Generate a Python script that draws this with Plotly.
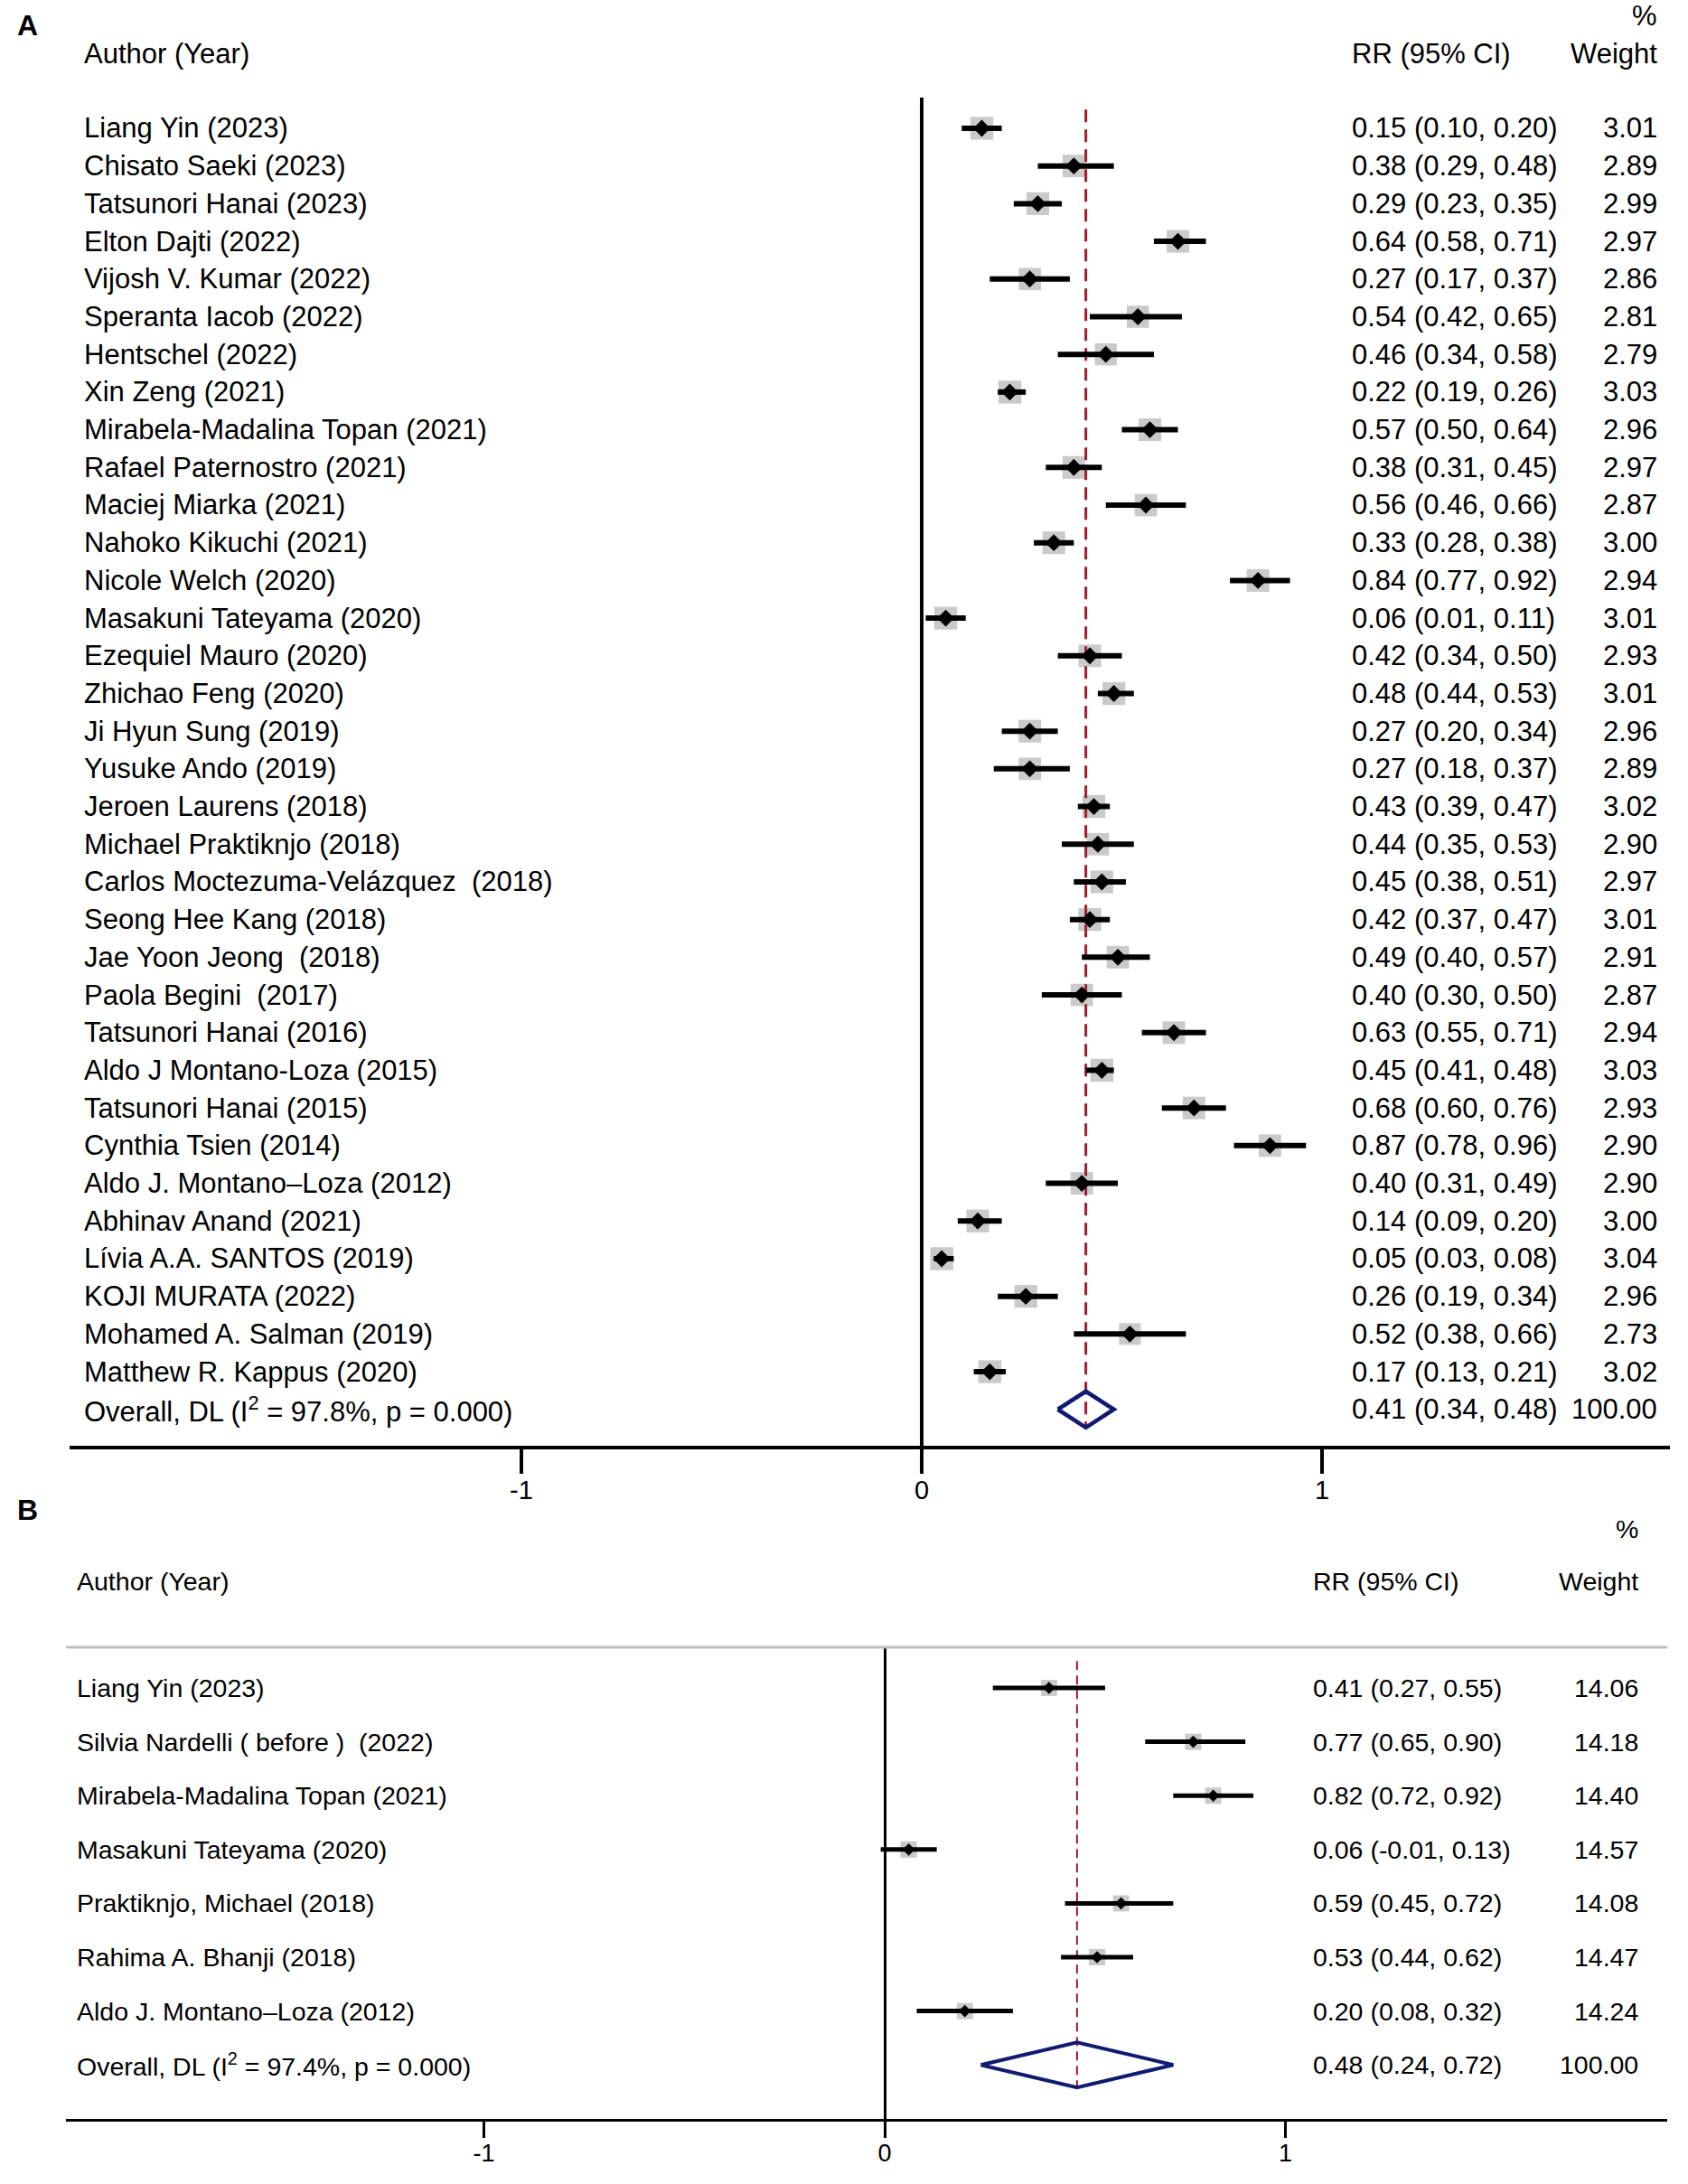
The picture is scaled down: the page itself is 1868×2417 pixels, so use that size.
import plotly.graph_objects as go

W, H = 1868, 2417
FONT = "Liberation Sans, Arial, Helvetica, sans-serif"

# ---------------- Panel A data ----------------
study_a = [
    "Liang Yin (2023)", "Chisato Saeki (2023)", "Tatsunori Hanai (2023)", "Elton Dajti (2022)",
    "Vijosh V. Kumar (2022)", "Speranta Iacob (2022)", "Hentschel (2022)", "Xin Zeng (2021)",
    "Mirabela-Madalina Topan (2021)", "Rafael Paternostro (2021)", "Maciej Miarka (2021)",
    "Nahoko Kikuchi (2021)", "Nicole Welch (2020)", "Masakuni Tateyama (2020)", "Ezequiel Mauro (2020)",
    "Zhichao Feng (2020)", "Ji Hyun Sung (2019)", "Yusuke Ando (2019)", "Jeroen Laurens (2018)",
    "Michael Praktiknjo (2018)", "Carlos Moctezuma-Velázquez  (2018)", "Seong Hee Kang (2018)",
    "Jae Yoon Jeong  (2018)", "Paola Begini  (2017)", "Tatsunori Hanai (2016)",
    "Aldo J Montano-Loza (2015)", "Tatsunori Hanai (2015)", "Cynthia Tsien (2014)",
    "Aldo J. Montano–Loza (2012)", "Abhinav Anand (2021)", "Lívia A.A. SANTOS (2019)",
    "KOJI MURATA (2022)", "Mohamed A. Salman (2019)", "Matthew R. Kappus (2020)",
]
rr_a = [0.15, 0.38, 0.29, 0.64, 0.27, 0.54, 0.46, 0.22, 0.57, 0.38, 0.56, 0.33, 0.84, 0.06, 0.42,
        0.48, 0.27, 0.27, 0.43, 0.44, 0.45, 0.42, 0.49, 0.40, 0.63, 0.45, 0.68, 0.87, 0.40, 0.14,
        0.05, 0.26, 0.52, 0.17]
lo_a = [0.10, 0.29, 0.23, 0.58, 0.17, 0.42, 0.34, 0.19, 0.50, 0.31, 0.46, 0.28, 0.77, 0.01, 0.34,
        0.44, 0.20, 0.18, 0.39, 0.35, 0.38, 0.37, 0.40, 0.30, 0.55, 0.41, 0.60, 0.78, 0.31, 0.09,
        0.03, 0.19, 0.38, 0.13]
hi_a = [0.20, 0.48, 0.35, 0.71, 0.37, 0.65, 0.58, 0.26, 0.64, 0.45, 0.66, 0.38, 0.92, 0.11, 0.50,
        0.53, 0.34, 0.37, 0.47, 0.53, 0.51, 0.47, 0.57, 0.50, 0.71, 0.48, 0.76, 0.96, 0.49, 0.20,
        0.08, 0.34, 0.66, 0.21]
wt_a = [3.01, 2.89, 2.99, 2.97, 2.86, 2.81, 2.79, 3.03, 2.96, 2.97, 2.87, 3.00, 2.94, 3.01, 2.93,
        3.01, 2.96, 2.89, 3.02, 2.90, 2.97, 3.01, 2.91, 2.87, 2.94, 3.03, 2.93, 2.90, 2.90, 3.00,
        3.04, 2.96, 2.73, 3.02]
overall_label_a = "Overall, DL (I<sup>2</sup> = 97.8%, p = 0.000)"
pooled_a = [0.41, 0.34, 0.48, 100.00]

# ---------------- Panel B data ----------------
study_b = [
    "Liang Yin (2023)", "Silvia Nardelli ( before )  (2022)", "Mirabela-Madalina Topan (2021)",
    "Masakuni Tateyama (2020)", "Praktiknjo, Michael (2018)", "Rahima A. Bhanji (2018)",
    "Aldo J. Montano–Loza (2012)",
]
rr_b = [0.41, 0.77, 0.82, 0.06, 0.59, 0.53, 0.20]
lo_b = [0.27, 0.65, 0.72, -0.01, 0.45, 0.44, 0.08]
hi_b = [0.55, 0.90, 0.92, 0.13, 0.72, 0.62, 0.32]
wt_b = [14.06, 14.18, 14.40, 14.57, 14.08, 14.47, 14.24]
overall_label_b = "Overall, DL (I<sup>2</sup> = 97.4%, p = 0.000)"
pooled_b = [0.48, 0.24, 0.72, 100.00]

tick_vals = [-1, 0, 1]
tick_text = ["-1", "0", "1"]

GREY = "#b3b3b3"
NAVY = "#101a70"
RED = "#a31d2e"


def px2paper(py):
    return 1 - py / H


fig = go.Figure()
annotations = []


def panel(xr, yr, names, rr, lo, hi, wt, pooled, overall_label, st):
    n = len(names)
    rows = list(range(n))
    mw = sum(wt) / n
    sizes = [st["sq"] * (w / mw) ** 0.5 for w in wt]
    # weight boxes
    fig.add_trace(go.Scatter(x=rr, y=rows, xaxis=xr, yaxis=yr, mode="markers",
                             marker=dict(symbol="square", size=sizes, color=GREY, line=dict(width=0)),
                             hoverinfo="skip"))
    # pooled estimate dashed line
    fig.add_trace(go.Scatter(x=[pooled[0], pooled[0]], y=[-0.5, n + st["dh"]], xaxis=xr, yaxis=yr,
                             mode="lines", line=dict(color=RED, width=st["dw"], dash=st["dash"]),
                             hoverinfo="skip"))
    # CI + point
    fig.add_trace(go.Scatter(x=rr, y=rows, xaxis=xr, yaxis=yr, mode="markers",
                             marker=dict(symbol="diamond", size=st["dm"], color="black", line=dict(width=0)),
                             error_x=dict(type="data", symmetric=False,
                                          array=[h - e for h, e in zip(hi, rr)],
                                          arrayminus=[e - l for e, l in zip(rr, lo)],
                                          width=0, thickness=st["ci"], color="black"),
                             hoverinfo="skip"))
    # overall diamond
    e, l, h = pooled[0], pooled[1], pooled[2]
    fig.add_trace(go.Scatter(x=[l, e, h, e, l], y=[n, n - st["dh"], n, n + st["dh"], n],
                             xaxis=xr, yaxis=yr, mode="lines",
                             line=dict(color=NAVY, width=st["dlw"]), hoverinfo="skip"))
    yref = yr
    f = dict(family=FONT, size=st["fs"], color="black")
    labels = names + [overall_label]
    rrt = [f"{a:.2f} ({b:.2f}, {c:.2f})" for a, b, c in zip(rr, lo, hi)] + [f"{e:.2f} ({l:.2f}, {h:.2f})"]
    wtt = [f"{w:.2f}" for w in wt] + [f"{pooled[3]:.2f}"]
    for i in range(n + 1):
        annotations.append(dict(x=st["xl"] / W, y=i, xref="paper", yref=yref, xanchor="left", yanchor="middle",
                                text=labels[i].replace("  ", " \u00a0"), showarrow=False, font=f))
        annotations.append(dict(x=st["xr"] / W, y=i, xref="paper", yref=yref, xanchor="left", yanchor="middle",
                                text=rrt[i], showarrow=False, font=f))
        annotations.append(dict(x=st["xw"] / W, y=i, xref="paper", yref=yref, xanchor="right", yanchor="middle",
                                text=wtt[i], showarrow=False, font=f))
    # headers
    annotations.append(dict(x=st["xl"] / W, y=px2paper(st["hy"]), xref="paper", yref="paper", xanchor="left",
                            yanchor="middle", text="Author (Year)", showarrow=False, font=f))
    annotations.append(dict(x=st["xr"] / W, y=px2paper(st["hy"]), xref="paper", yref="paper", xanchor="left",
                            yanchor="middle", text="RR (95% CI)", showarrow=False, font=f))
    annotations.append(dict(x=st["xw"] / W, y=px2paper(st["hy"]), xref="paper", yref="paper", xanchor="right",
                            yanchor="middle", text="Weight", showarrow=False, font=f))
    annotations.append(dict(x=st["xw"] / W, y=px2paper(st["py"]), xref="paper", yref="paper", xanchor="right",
                            yanchor="middle", text="%", showarrow=False, font=f))
    annotations.append(dict(x=30 / W, y=px2paper(st["ly"]), xref="paper", yref="paper", xanchor="center",
                            yanchor="middle", text="<b>" + st["letter"] + "</b>", showarrow=False,
                            font=dict(family=FONT, size=32, color="black")))


st_a = dict(sq=25, dm=14.5, ci=6, dw=3, dash="14px,8px", dh=0.48, dlw=4.5, fs=31,
            xl=91, xr=1494, xw=1836, hy=59, py=18, ly=28, letter="A")
st_b = dict(sq=18, dm=10.5, ci=5, dw=2, dash="10px,6px", dh=0.42, dlw=4, fs=28.5,
            xl=83, xr=1451, xw=1815, hy=1750, py=1692, ly=1671, letter="B")

panel("x", "y", study_a, rr_a, lo_a, hi_a, wt_a, pooled_a, overall_label_a, st_a)
panel("x2", "y2", study_b, rr_b, lo_b, hi_b, wt_b, pooled_b, overall_label_b, st_b)

# grey separator line in panel B
shapes = [dict(type="line", xref="paper", yref="paper", x0=73 / W, x1=1845 / W,
               y0=px2paper(1823), y1=px2paper(1823), line=dict(color="#bfbfbf", width=3))]

axis_common = dict(showgrid=False, zeroline=True, zerolinecolor="black", showline=True, linecolor="black",
                   ticks="outside", tickcolor="black", tickvals=tick_vals, ticktext=tick_text)

fig.update_layout(
    width=W, height=H, margin=dict(l=0, r=0, t=0, b=0),
    paper_bgcolor="white", plot_bgcolor="white", showlegend=False,
    font=dict(family=FONT, color="black"),
    xaxis=dict(domain=[77 / W, 1848 / W], range=[(77 - 1020) / 443, (1848 - 1020) / 443], anchor="y",
               linewidth=4, zerolinewidth=3.5, ticklen=27, tickwidth=3.5, ticklabelstandoff=-7,
               tickfont=dict(family=FONT, size=29, color="black"), **axis_common),
    yaxis=dict(domain=[px2paper(1600), px2paper(108)], range=[34.965, -0.815], anchor="x",
               visible=False),
    xaxis2=dict(domain=[73 / W, 1845 / W], range=[(73 - 979) / 443.5, (1845 - 979) / 443.5], anchor="y2",
                linewidth=3, zerolinewidth=3, ticklen=18, tickwidth=3, ticklabelstandoff=-6,
                tickfont=dict(family=FONT, size=27, color="black"), **axis_common),
    yaxis2=dict(domain=[px2paper(2345), px2paper(1823)], range=[8.003, -0.755], anchor="x2",
                visible=False),
    annotations=annotations,
    shapes=shapes,
)

fig.write_html("out.html", config={"displayModeBar": False},
               post_script="document.body.style.margin='0px';")
